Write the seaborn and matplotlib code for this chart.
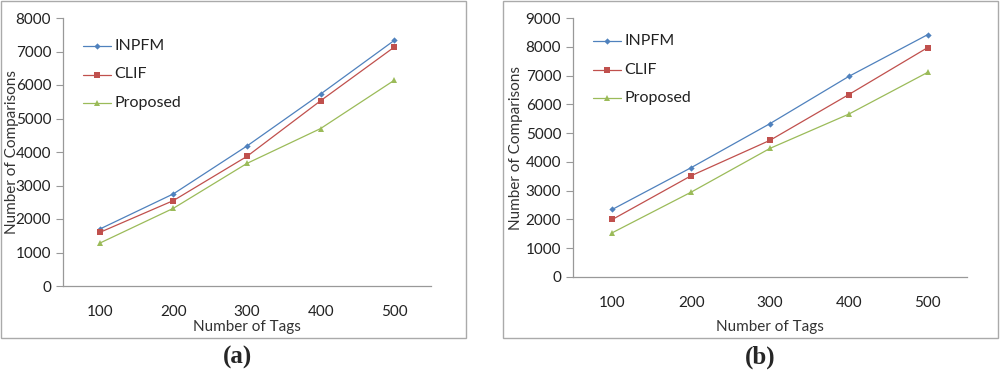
import numpy as np
import pandas as pd
import matplotlib
matplotlib.use('Agg')
import matplotlib.pyplot as plt
import matplotlib.ticker as mticker
from matplotlib.patches import Rectangle
import seaborn as sns

# ------------- data -------------
TAGS = ['100', '200', '300', '400', '500']
SERIES = ['INPFM', 'CLIF', 'Proposed']

A_INPFM    = [1700, 2750, 4180, 5730, 7330]
A_CLIF     = [1600, 2550, 3870, 5530, 7130]
A_PROPOSED = [1280, 2320, 3660, 4700, 6140]

B_INPFM    = [2350, 3800, 5330, 6970, 8420]
B_CLIF     = [2000, 3520, 4750, 6340, 7970]
B_PROPOSED = [1540, 2950, 4470, 5660, 7110]

COLORS  = {'INPFM': '#4F81BD', 'CLIF': '#C0504D', 'Proposed': '#9BBB59'}
MARKERS = {'INPFM': 'D', 'CLIF': 's', 'Proposed': '^'}
MSIZE   = {'INPFM': 3.2, 'CLIF': 5, 'Proposed': 4.5}

sns.set_theme(style='white')
plt.rcParams['font.family'] = ['Lato', 'DejaVu Sans']

W, H = 1000, 373
fig = plt.figure(figsize=(W / 100, H / 100), dpi=100)

def px_axes(x0, y_top, x1, y_bot):
    return fig.add_axes([x0 / W, (H - y_bot) / H, (x1 - x0) / W, (y_bot - y_top) / H])

def make_df(inpfm, clif, prop):
    rows = []
    for name, vals in zip(SERIES, [inpfm, clif, prop]):
        for i, v in enumerate(vals):
            rows.append({'pos': i, 'series': name, 'value': v})
    return pd.DataFrame(rows)

def draw_panel(ax, df, ymax, leg_x, leg_y, leg_dy, ylab_x, xlab_y):
    for name in SERIES:
        sub = df[df['series'] == name]
        sns.lineplot(data=sub, x='pos', y='value', ax=ax, color=COLORS[name],
                     marker=MARKERS[name], markersize=MSIZE[name],
                     markeredgewidth=0, linewidth=0.9, legend=False)
    ax.set_xlim(-0.5, 4.5)
    ax.set_ylim(0, ymax)
    ax.set_xticks(range(len(TAGS)))
    ax.set_xticklabels(TAGS)
    ax.xaxis.set_minor_locator(mticker.FixedLocator(np.arange(-0.5, 4.6, 1)))
    ax.tick_params(axis='x', which='major', length=0, pad=14, labelsize=11, colors='#222222')
    ax.tick_params(axis='x', which='minor', length=5, width=0.8, color='#999999', direction='out')
    ax.yaxis.set_major_locator(mticker.MultipleLocator(1000))
    ax.tick_params(axis='y', which='major', length=5, width=0.8, color='#999999',
                   direction='out', labelsize=11, labelcolor='#222222', left=True)
    for s in ['top', 'right']:
        ax.spines[s].set_visible(False)
    for s in ['left', 'bottom']:
        ax.spines[s].set_color('#999999')
        ax.spines[s].set_linewidth(0.9)
    ax.set_xlabel('Number of Tags', fontsize=11, color='#333333')
    ax.set_ylabel('Number of Comparisons', fontsize=11, color='#333333')
    ax.set_facecolor('white')
    # place axis labels in pixel positions
    bb = ax.get_position()
    ax.yaxis.set_label_coords((ylab_x / W - bb.x0) / bb.width, 0.5)
    ax.xaxis.set_label_coords(0.5, ((H - xlab_y) / H - bb.y0) / bb.height)
    ax.xaxis.label.set_va('center')
    ax.yaxis.label.set_va('center')
    # legend, Excel style, inside plot
    for k, name in enumerate(SERIES):
        y = leg_y + k * leg_dy
        x0, x1 = leg_x, leg_x + 28
        fig.add_artist(plt.Line2D([x0 / W, x1 / W], [(H - y) / H, (H - y) / H],
                                  color=COLORS[name], lw=0.9))
        fig.add_artist(plt.Line2D([(x0 + x1) / 2 / W], [(H - y) / H], color=COLORS[name],
                                  marker=MARKERS[name], markersize=MSIZE[name], markeredgewidth=0))
        fig.text((x1 + 3) / W, (H - y) / H, name, fontsize=11.5, color='#222222',
                 va='center', ha='left')

# panel frames
fig.add_artist(Rectangle((1 / W, (H - 338) / H), 465 / W, 337 / H, transform=fig.transFigure,
                         fill=False, edgecolor='#aaaaaa', lw=1))
fig.add_artist(Rectangle((503 / W, (H - 338) / H), 495 / W, 337 / H, transform=fig.transFigure,
                         fill=False, edgecolor='#aaaaaa', lw=1))

ax1 = px_axes(63, 18, 431, 286)
draw_panel(ax1, make_df(A_INPFM, A_CLIF, A_PROPOSED), 8000, 83, 46, 28.5, 12, 327)

ax2 = px_axes(573, 18, 967, 277)
draw_panel(ax2, make_df(B_INPFM, B_CLIF, B_PROPOSED), 9000, 593, 41, 28.5, 516, 327)

for cx, label in [(238, '(a)'), (760, '(b)')]:
    fig.text(cx / W, (H - 357) / H, label, fontsize=18, family='Liberation Serif',
             weight='bold', ha='center', va='center')

fig.savefig('out.png', dpi=100, facecolor='white')
